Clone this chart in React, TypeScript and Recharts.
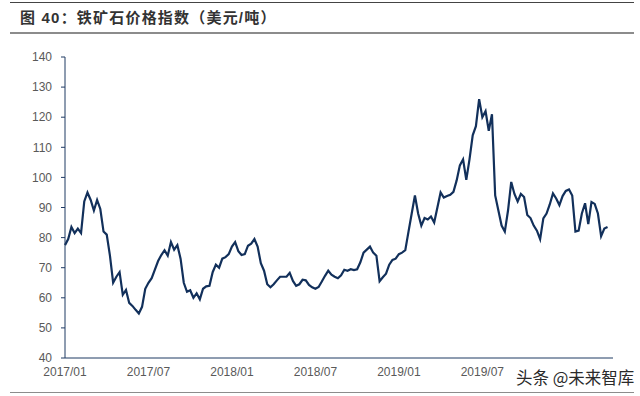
import { LineChart, Line, XAxis, YAxis } from "recharts";

// weekly iron ore price index, USD/t, first point = first week of 2017/01
const prices = [
  77.5, 79.5, 83.5, 81.5, 83, 81.5, 92, 95, 92.5, 89, 92.5, 89.5, 82, 81, 74, 65, 67, 68.5, 61, 62.6,
  58.3, 57.3, 56, 54.8, 57, 63, 65, 66.5, 69.4, 72.2, 74.2, 75.8, 74, 78.5, 76, 77.5, 73, 65, 62, 62.5,
  60, 61.5, 59.5, 63, 63.8, 64, 68.5, 71, 70, 73, 73.5, 74.5, 77, 78.5, 75.5, 74.2, 74.5, 77.3, 78, 79.5,
  77, 71.5, 69, 64.5, 63.5, 64.5, 65.8, 67, 67, 67, 68.3, 65.6, 64, 64.5, 66, 65.8, 64.3, 63.5, 63, 63.6,
  65.4, 67.3, 69, 67.7, 67, 66.5, 67.5, 69.3, 69, 69.5, 69.2, 69.5, 71.8, 75, 76, 77, 75, 74, 65.5, 66.8,
  68, 71, 72.6, 73, 74.5, 75, 75.8, 82, 88, 94, 88, 84, 86.5, 86, 87, 85, 90, 95, 93.3, 93.8,
  94.2, 95.2, 99, 104, 106, 99.2, 106, 114, 117, 126, 120, 122, 115.5, 121, 94, 89, 84, 82, 89, 98.5,
  94.5, 92, 94.5, 93.5, 87.5, 86.5, 84, 82.3, 79.5, 86.4, 88, 91, 94.7, 93, 90.8, 93.8, 95.5, 96, 94, 82,
  82.3, 88, 91.4, 84.5, 91.8, 91.2, 88, 80.5, 83, 83.5,
];

const tickWeeks = [0, 26, 52, 78, 104, 130];
const tickLabels = ["2017/01", "2017/07", "2018/01", "2018/07", "2019/01", "2019/07"];
const yTicks = [40, 50, 60, 70, 80, 90, 100, 110, 120, 130, 140];

const data = prices.map((v, i) => ({ week: i, price: v }));

const axisColor = "#1f3a63";
const tickStyle = { fill: "#595959", fontSize: 12, fontFamily: "'Liberation Sans', Arial, sans-serif" };

export default function App() {
  return (
    <div
      style={{
        position: "absolute",
        left: 0,
        top: 0,
        width: 640,
        height: 396,
        background: "#fff",
        overflow: "hidden",
      }}
    >
      <div style={{ position: "absolute", left: 10, right: 6, top: 2, height: 1, background: "#444" }} />
      <div
        style={{
          position: "absolute",
          left: 20,
          top: 9,
          fontSize: 15,
          fontWeight: 700,
          color: "#333",
          fontFamily: "'Liberation Sans', 'Noto Sans CJK SC', sans-serif",
          whiteSpace: "nowrap",
          lineHeight: "18px",
          letterSpacing: 1.2,
        }}
      >
        图 40：铁矿石价格指数（美元/吨）
      </div>
      <div style={{ position: "absolute", left: 10, right: 6, top: 32, height: 2, background: "#8c8c8c" }} />

      <div style={{ position: "absolute", left: 0, top: 0 }}>
        <LineChart width={640} height={396} data={data} margin={{ top: 57, right: 27, left: 20, bottom: 8 }}>
          <XAxis
            dataKey="week"
            type="number"
            domain={[0, 170.7]}
            ticks={tickWeeks}
            tickFormatter={(w) => tickLabels[tickWeeks.indexOf(w)] ?? ""}
            tickLine={false}
            tickSize={0}
            tickMargin={9}
            height={30}
            stroke={axisColor}
            tick={tickStyle}
            interval={0}
          />
          <YAxis
            domain={[40, 140]}
            ticks={yTicks}
            width={45}
            tickSize={4}
            tickMargin={9}
            stroke={axisColor}
            tick={tickStyle}
            interval={0}
          />
          <Line
            type="linear"
            dataKey="price"
            stroke="#12305b"
            strokeWidth={2.2}
            dot={false}
            activeDot={false}
            isAnimationActive={false}
          />
        </LineChart>
      </div>

      <div style={{ position: "absolute", left: 10, right: 6, top: 392, height: 1, background: "#8c8c8c" }} />
      <div
        style={{
          position: "absolute",
          left: 516,
          top: 367,
          fontSize: 16.5,
          color: "#2a2a2a",
          fontFamily: "'Noto Sans CJK SC', sans-serif",
          whiteSpace: "nowrap",
          lineHeight: "20px",
        }}
      >
        头条 @未来智库
      </div>
    </div>
  );
}
